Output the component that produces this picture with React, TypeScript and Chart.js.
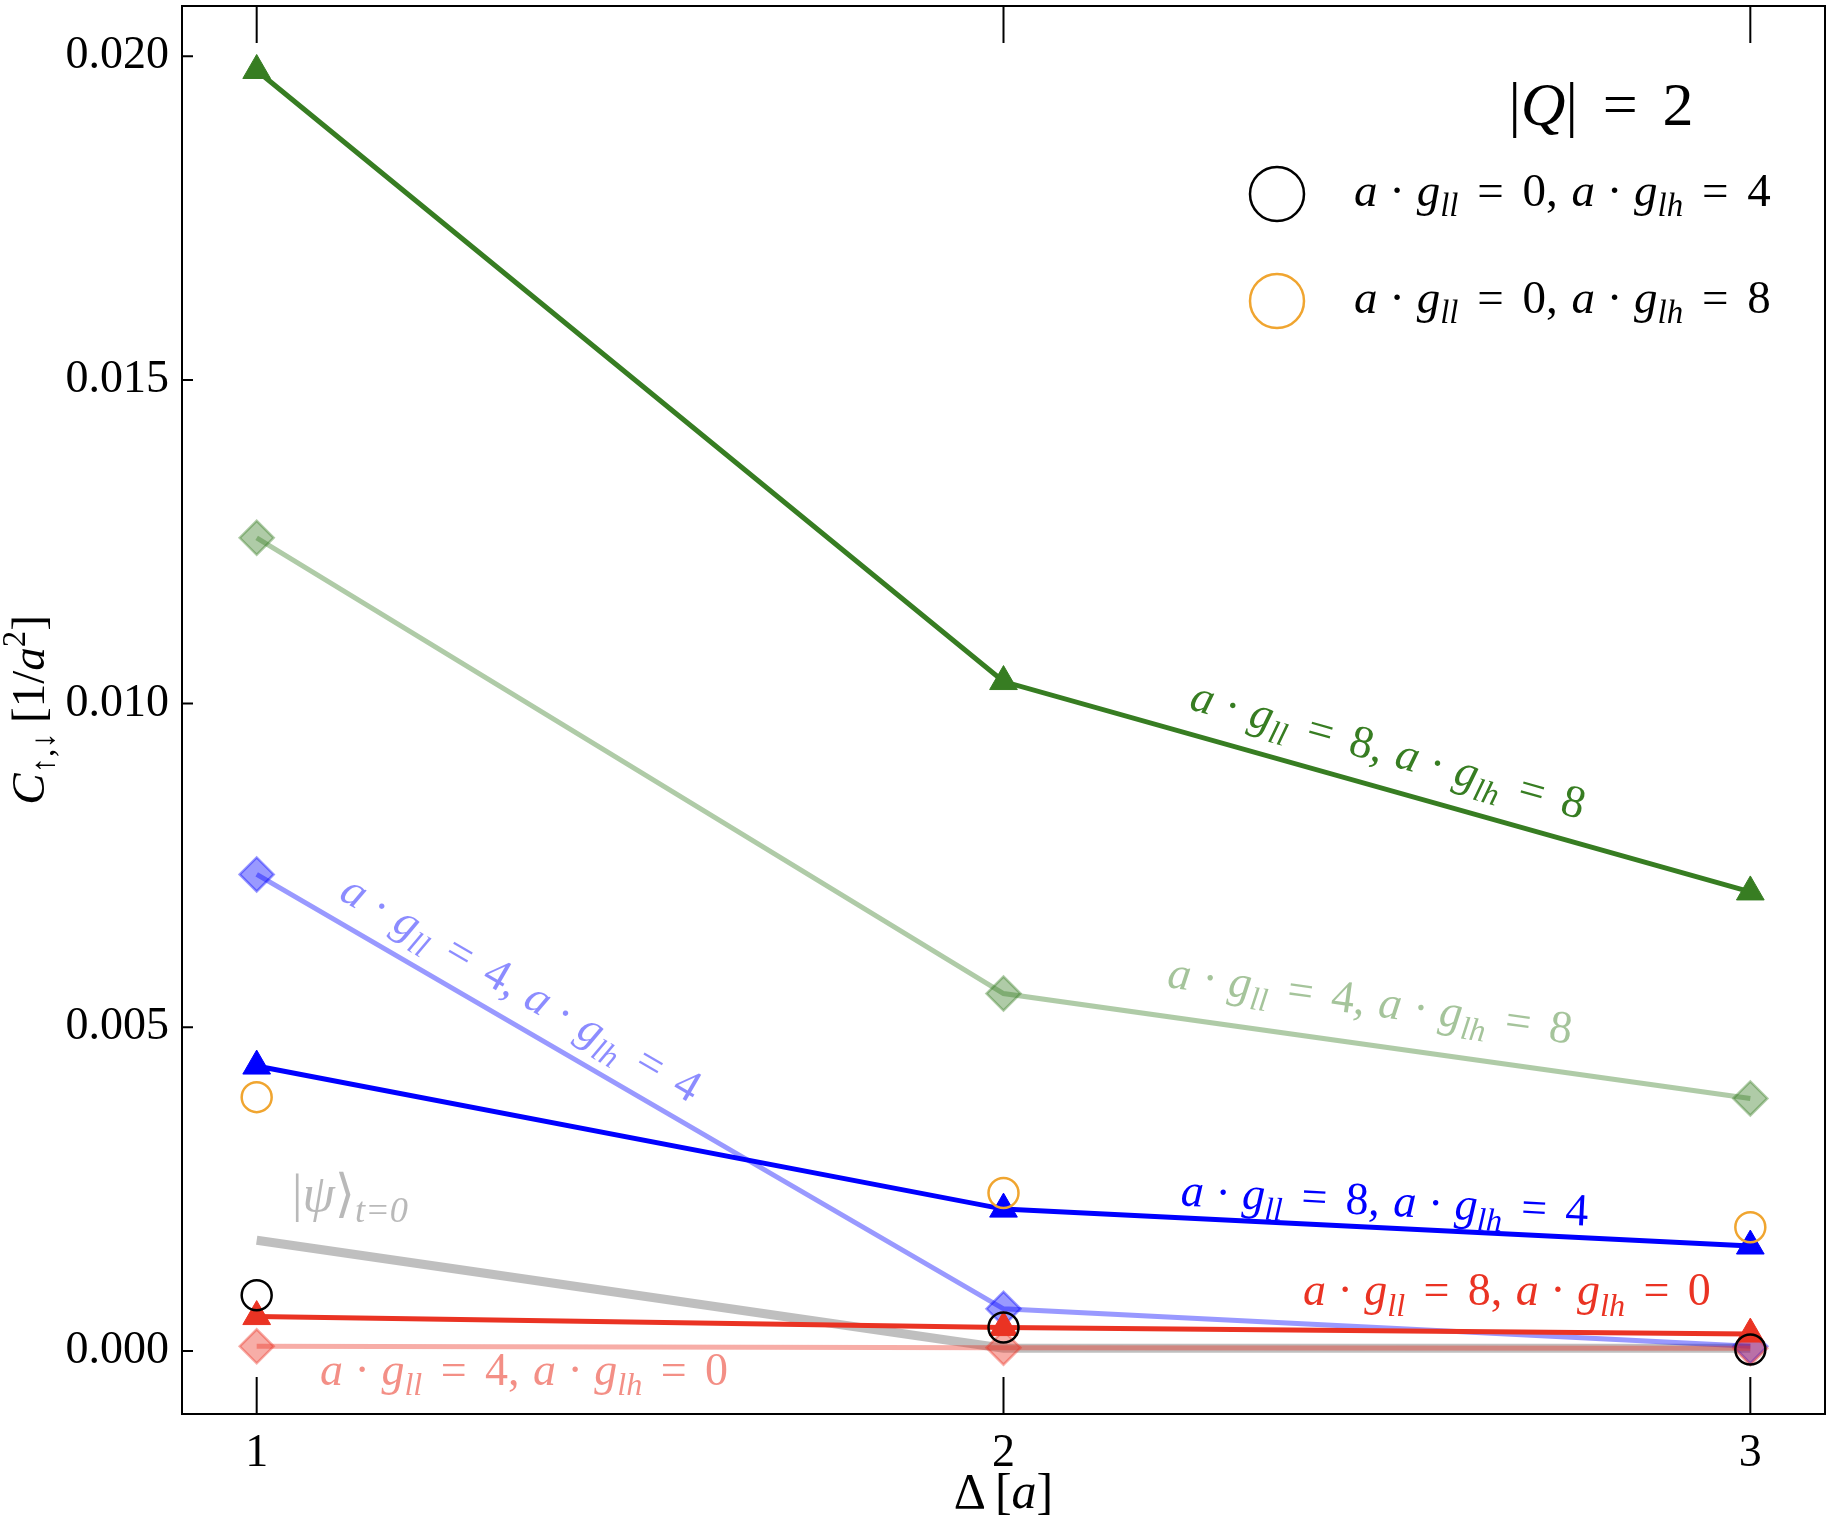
import { useEffect, useRef } from "react";
import { Chart, registerables } from "chart.js";

Chart.register(...registerables);

const SERIF = '"Liberation Serif", "DejaVu Serif", serif';

// Δ [a]
const spacings = [1, 2, 3];
const xTicks = [1, 2, 3];
const yTicks = [0, 0.005, 0.01, 0.015, 0.02];

// C↑,↓ [1/a²], one array per coupling (a·g_ll, a·g_lh)
const c8_8 = [0.01978, 0.01034, 0.00709];
const c4_8 = [0.01256, 0.00552, 0.0039];
const c4_4 = [0.00736, 0.00065, 0.00007];
const c8_4 = [0.0044, 0.00219, 0.00162];
const c8_0 = [0.00053, 0.00036, 0.00026];
const c4_0 = [0.00007, 0.00005, 0.00004];
const c0_4 = [0.00086, 0.00036, 0.00002];
const c0_8 = [0.00392, 0.00244, 0.00191];
const initialState = [0.00171, 0.00004, 0.00004];

const charge = 2;

type Run = { t: string; it?: boolean; sub?: boolean; sup?: boolean; gap?: number };
type Kind = "solid" | "faded" | "circle" | "initial";
type Series = {
  values: number[];
  gll?: number;
  glh?: number;
  rgb: string;
  kind: Kind;
  label?: { x: number; y: number; flat?: boolean; alpha?: number };
};

// first entry is drawn on top
const series: Series[] = [
  { values: c0_4, gll: 0, glh: 4, rgb: "0,0,0", kind: "circle" },
  { values: c0_8, gll: 0, glh: 8, rgb: "240,165,48", kind: "circle" },
  { values: c8_0, gll: 8, glh: 0, rgb: "234,51,35", kind: "solid", label: { x: 2.674, y: 0.00083, flat: true } },
  { values: c8_4, gll: 8, glh: 4, rgb: "0,0,255", kind: "solid", label: { x: 2.51, y: 0.00222 } },
  { values: c8_8, gll: 8, glh: 8, rgb: "55,125,34", kind: "solid", label: { x: 2.513, y: 0.00919 } },
  { values: c4_0, gll: 4, glh: 0, rgb: "234,51,35", kind: "faded", label: { x: 1.358, y: -0.0004, flat: true, alpha: 0.55 } },
  { values: c4_4, gll: 4, glh: 4, rgb: "0,0,255", kind: "faded", label: { x: 1.35, y: 0.00552, alpha: 0.45 } },
  { values: c4_8, gll: 4, glh: 8, rgb: "55,125,34", kind: "faded", label: { x: 2.49, y: 0.00531, alpha: 0.45 } },
  { values: initialState, rgb: "128,128,128", kind: "initial", label: { x: 1.125, y: 0.00231, flat: true, alpha: 0.55 } },
];

const gap = (em: number): Run => ({ t: "", gap: em });

function couplingText(gll: number, glh: number): Run[] {
  return [
    { t: "a", it: true }, gap(0.25), { t: "·" }, gap(0.25),
    { t: "g", it: true }, { t: "ll", it: true, sub: true }, gap(0.4), { t: "=" }, gap(0.4),
    { t: `${gll},` }, gap(0.29),
    { t: "a", it: true }, gap(0.25), { t: "·" }, gap(0.25),
    { t: "g", it: true }, { t: "lh", it: true, sub: true }, gap(0.4), { t: "=" }, gap(0.4),
    { t: `${glh}` },
  ];
}

const psiText: Run[] = [{ t: "|" }, { t: "ψ", it: true }, { t: "⟩" }, { t: "t=0", it: true, sub: true }];
const chargeText: Run[] = [{ t: "|" }, { t: "Q", it: true }, { t: "|" }, gap(0.4), { t: "=" }, gap(0.4), { t: `${charge}` }];
const yTitle: Run[] = [{ t: "C", it: true }, { t: "↑,↓", sub: true }, gap(0.2), { t: "[1/" }, { t: "a", it: true }, { t: "2", sup: true }, { t: "]" }];
const xTitle: Run[] = [{ t: "Δ" }, gap(0.18), { t: "[" }, { t: "a", it: true }, { t: "]" }];

function runFont(r: Run, size: number) {
  const s = r.sub || r.sup ? size * 0.7 : size;
  return `${r.it ? "italic " : ""}${s}px ${SERIF}`;
}

function runsWidth(ctx: CanvasRenderingContext2D, runs: Run[], size: number) {
  let w = 0;
  for (const r of runs) {
    ctx.font = runFont(r, size);
    w += (r.t ? ctx.measureText(r.t).width : 0) + (r.gap ?? 0) * size;
  }
  return w;
}

function drawRuns(
  ctx: CanvasRenderingContext2D,
  runs: Run[],
  x: number,
  y: number,
  size: number,
  color: string,
  opts: { align?: "left" | "center"; angle?: number; baseline?: boolean } = {}
) {
  ctx.save();
  ctx.translate(x, y);
  ctx.rotate(opts.angle ?? 0);
  ctx.fillStyle = color;
  ctx.textAlign = "left";
  ctx.textBaseline = "alphabetic";
  let cx = opts.align === "center" ? -runsWidth(ctx, runs, size) / 2 : 0;
  const by = opts.baseline ? 0 : size * 0.18;
  for (const r of runs) {
    ctx.font = runFont(r, size);
    const dy = r.sub ? size * 0.22 : r.sup ? -size * 0.4 : 0;
    if (r.t) {
      ctx.fillText(r.t, cx, by + dy);
      cx += ctx.measureText(r.t).width;
    }
    cx += (r.gap ?? 0) * size;
  }
  ctx.restore();
}

const overlay = {
  id: "overlay",
  afterDatasetsDraw(chart: Chart) {
    const ctx = chart.ctx;
    const xs = chart.scales.x;
    const ys = chart.scales.y;
    const area = chart.chartArea;

    // in-line labels
    for (const s of series) {
      if (!s.label) continue;
      const { x, y, flat, alpha } = s.label;
      let angle = 0;
      if (!flat) {
        const i = x < spacings[1] ? 0 : 1;
        const dx = xs.getPixelForValue(spacings[i + 1]) - xs.getPixelForValue(spacings[i]);
        const dy = ys.getPixelForValue(s.values[i + 1]) - ys.getPixelForValue(s.values[i]);
        angle = Math.atan2(dy, dx);
      }
      const color = `rgba(${s.rgb},${alpha ?? 1})`;
      const runs = s.kind === "initial" ? psiText : couplingText(s.gll!, s.glh!);
      const size = s.kind === "initial" ? 52 : 46;
      drawRuns(ctx, runs, xs.getPixelForValue(x), ys.getPixelForValue(y), size, color, { align: "center", angle });
    }

    // legend
    const right = area.right;
    drawRuns(ctx, chargeText, right - 224, area.top + 119, 62, "#000", { align: "center", baseline: true });
    const circles = series.filter((s) => s.kind === "circle");
    circles.forEach((s, k) => {
      const cy = area.top + 188 + k * 107;
      ctx.save();
      ctx.strokeStyle = `rgb(${s.rgb})`;
      ctx.lineWidth = 2.5;
      ctx.beginPath();
      ctx.arc(right - 548, cy, 27, 0, Math.PI * 2);
      ctx.stroke();
      ctx.restore();
      drawRuns(ctx, couplingText(s.gll!, s.glh!), right - 471, cy + 12, 47, "#000", { baseline: true });
    });
  },
  afterDraw(chart: Chart) {
    const ctx = chart.ctx;
    const xs = chart.scales.x;
    const ys = chart.scales.y;
    const { left, right, top, bottom } = chart.chartArea;
    ctx.save();
    ctx.strokeStyle = "#000";
    ctx.lineWidth = 2;
    ctx.strokeRect(left, top, right - left, bottom - top);
    ctx.beginPath();
    for (const v of xTicks) {
      const px = xs.getPixelForValue(v);
      ctx.moveTo(px, bottom);
      ctx.lineTo(px, bottom - 37);
      ctx.moveTo(px, top);
      ctx.lineTo(px, top + 37);
    }
    for (const v of yTicks) {
      const py = ys.getPixelForValue(v);
      ctx.moveTo(left, py);
      ctx.lineTo(left + 11, py);
    }
    ctx.stroke();
    ctx.restore();

    drawRuns(ctx, xTitle, (left + right) / 2, 1508, 50, "#000", { align: "center", baseline: true });
    drawRuns(ctx, yTitle, 44, (top + bottom) / 2, 47, "#000", { align: "center", angle: -Math.PI / 2, baseline: true });
  },
};

function toDataset(s: Series) {
  const data = spacings.map((x, i) => ({ x, y: s.values[i] }));
  const solid = `rgb(${s.rgb})`;
  const faded = `rgba(${s.rgb},0.4)`;
  if (s.kind === "circle") {
    return {
      data,
      showLine: false,
      pointStyle: "circle",
      pointRadius: 15,
      pointBackgroundColor: "rgba(0,0,0,0)",
      pointBorderColor: solid,
      pointBorderWidth: 2.5,
    };
  }
  if (s.kind === "initial") {
    return {
      data,
      borderColor: "rgba(128,128,128,0.5)",
      borderWidth: 9,
      pointRadius: 0,
      tension: 0,
    };
  }
  if (s.kind === "faded") {
    return {
      data,
      borderColor: faded,
      borderWidth: 5,
      pointStyle: "rectRot",
      pointRadius: 17,
      pointBackgroundColor: faded,
      pointBorderColor: faded,
      pointBorderWidth: 2.5,
      tension: 0,
    };
  }
  return {
    data,
    borderColor: solid,
    borderWidth: 5,
    pointStyle: "triangle",
    pointRadius: 16,
    pointBackgroundColor: solid,
    pointBorderColor: solid,
    pointBorderWidth: 1,
    tension: 0,
  };
}

function CorrelationChart() {
  const canvasRef = useRef<HTMLCanvasElement>(null);
  const chartRef = useRef<Chart | null>(null);

  useEffect(() => {
    if (!canvasRef.current) return;
    if (chartRef.current) chartRef.current.destroy();

    chartRef.current = new Chart(canvasRef.current, {
      type: "line",
      data: { datasets: series.map(toDataset) as any },
      options: {
        animation: false,
        responsive: true,
        maintainAspectRatio: false,
        events: [],
        layout: { autoPadding: false, padding: { top: 6, right: 7, left: 0, bottom: 0 } },
        plugins: { legend: { display: false }, tooltip: { enabled: false } },
        scales: {
          x: {
            type: "linear",
            min: 0.9,
            max: 3.1,
            grid: { display: false, drawTicks: false },
            border: { display: false },
            ticks: {
              color: "#000",
              font: { family: SERIF, size: 46 },
              padding: 12,
              callback: (v) => String(v),
            },
            afterBuildTicks: (s) => {
              s.ticks = xTicks.map((value) => ({ value }));
            },
            afterFit: (s) => {
              s.height = 110;
              s.paddingLeft = 0;
              s.paddingRight = 0;
            },
          },
          y: {
            type: "linear",
            min: -0.000975,
            max: 0.020776,
            grid: { display: false, drawTicks: false },
            border: { display: false },
            ticks: {
              color: "#000",
              font: { family: SERIF, size: 46 },
              padding: 13,
              callback: (v) => Number(v).toFixed(3),
            },
            afterBuildTicks: (s) => {
              s.ticks = yTicks.map((value) => ({ value }));
            },
            afterFit: (s) => {
              s.width = 182;
              s.paddingTop = 0;
              s.paddingBottom = 0;
            },
          },
        },
      },
      plugins: [overlay],
    });

    return () => {
      if (chartRef.current) {
        chartRef.current.destroy();
        chartRef.current = null;
      }
    };
  }, []);

  return <canvas ref={canvasRef} />;
}

export default function App() {
  return (
    <div style={{ position: "fixed", left: 0, top: 0, width: 1832, height: 1524, background: "#fff" }}>
      <CorrelationChart />
    </div>
  );
}
